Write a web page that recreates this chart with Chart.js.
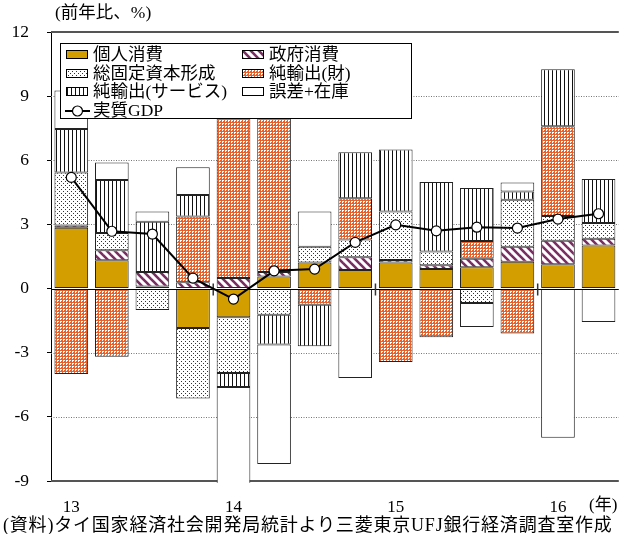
<!DOCTYPE html>
<html lang="ja">
<head>
<meta charset="utf-8">
<title>タイ 実質GDP成長率の需要項目別寄与度</title>
<script src="https://cdn.jsdelivr.net/npm/chart.js@4.4.1/dist/chart.umd.min.js"></script>
<style>
  html, body { margin: 0; padding: 0; background: #fff; }
  body { width: 625px; height: 534px; overflow: hidden; position: relative;
         font-family: 'Liberation Serif', 'Noto Sans CJK JP', serif; color: #000; }
  #wrap { position: absolute; left: 0; top: 0; width: 625px; height: 534px; }
  .txt { position: absolute; white-space: nowrap; line-height: 1; }
  #unit { left: 55px; top: 4px; font-size: 17.5px; }
  #year { left: 589px; top: 496px; font-size: 17px; }
  #source { left: 3px; top: 516px; font-size: 18px; letter-spacing: 0.8px; }
  #legend { position: absolute; left: 60px; top: 43px; width: 352px; height: 76px;
            border: 1px solid #000; background: #fff; box-sizing: border-box; }
  .item { position: absolute; height: 19px; font-size: 17.5px; line-height: 19px; white-space: nowrap; }
  .sw { position: absolute; left: 0; top: 5px; width: 22px; height: 9px;
        border: 1px solid #000; box-sizing: border-box; }
  .item span.t { position: absolute; left: 27px; top: 0; }
</style>
</head>
<body>
<div id="wrap"><canvas id="chart"></canvas></div>
<div class="txt" id="unit">(前年比、%)</div>
<div class="txt" id="year">(年)</div>
<div class="txt" id="source">(資料)タイ国家経済社会開発局統計より三菱東京UFJ銀行経済調査室作成</div>
<div id="legend"></div>

<script>
// quarters 2013Q1 - 2016Q2, label only on Q1
const quarterLabels = ['13', '', '', '', '14', '', '', '', '15', '', '', '', '16', ''];

const privateCons = [2.85, 1.32, 0.10, -1.84, -1.34, 0.57, 1.22, 0.87, 1.22, 0.92, 1.00, 1.25, 1.14, 2.02];
const govCons = [0.10, 0.47, 0.68, 0.30, 0.50, 0.21, 0.00, 0.60, 0.12, 0.17, 0.40, 0.71, 1.10, 0.31];
const fixedInv = [2.48, 0.81, -1.00, -3.30, -2.61, -1.22, 0.74, 0.83, 2.26, 0.64, -0.68, 2.19, 1.15, 0.74];
const netGoods = [-4.00, -3.19, 0.00, 3.07, 9.00, 8.25, -0.76, 1.92, -3.44, -2.28, 0.82, -2.10, 4.20, 0.00];
const netServices = [2.03, 2.48, 2.34, 1.01, -0.65, -1.40, -1.94, 2.15, 2.90, 3.26, 2.48, 0.39, 2.67, 2.05];
const residual = [1.80, 0.82, 0.49, 1.29, -5.20, -5.58, 1.64, -4.18, 0.00, 0.00, -1.12, 0.42, -6.98, -1.56];
const realGDP = [5.20, 2.68, 2.55, 0.49, -0.49, 0.83, 0.91, 2.16, 2.98, 2.70, 2.87, 2.83, 3.25, 3.50];

// y axis
const yMin = -9;
const yMax = 12;
const yStep = 3;

const FONT = "'Liberation Serif', 'Noto Sans CJK JP', serif";

// small pattern tiles for fills
function makeTile(w, h, draw) {
  const c = document.createElement('canvas');
  c.width = w;
  c.height = h;
  draw(c.getContext('2d'), w, h);
  return c;
}

const tiles = {
  gold: makeTile(4, 4, (g, w, h) => {
    g.fillStyle = '#D29E00';
    g.fillRect(0, 0, w, h);
  }),
  hatch: makeTile(8, 8, (g, w, h) => {
    g.fillStyle = '#fff';
    g.fillRect(0, 0, w, h);
    g.strokeStyle = '#7B2D62';
    g.lineWidth = 2.6;
    for (let o = -8; o <= 8; o += 8) {
      g.beginPath();
      g.moveTo(o - 1, -1);
      g.lineTo(o + 9, 9);
      g.stroke();
    }
  }),
  dots: makeTile(4, 4, (g, w, h) => {
    g.fillStyle = '#fff';
    g.fillRect(0, 0, w, h);
    g.fillStyle = '#333';
    g.fillRect(1, 1, 1, 1);
    g.fillRect(3, 3, 1, 1);
  }),
  checker: makeTile(3, 3, (g, w, h) => {
    g.fillStyle = '#E8602A';
    g.fillRect(0, 0, w, h);
    g.fillStyle = '#fff';
    g.fillRect(0, 0, 2, 1);
    g.fillRect(0, 1, 1, 1);
  }),
  vstripe: makeTile(4, 4, (g, w, h) => {
    g.fillStyle = '#fff';
    g.fillRect(0, 0, w, h);
    g.fillStyle = '#111';
    g.fillRect(0, 0, 1, h);
  }),
  blank: makeTile(4, 4, (g, w, h) => {
    g.fillStyle = '#fff';
    g.fillRect(0, 0, w, h);
  })
};

const ctx = document.getElementById('chart').getContext('2d');
function pat(name) {
  return ctx.createPattern(tiles[name], 'repeat');
}

// bar series definitions (stack order = array order)
const barSeries = [
  { label: '個人消費', data: privateCons, tile: 'gold' },
  { label: '政府消費', data: govCons, tile: 'hatch' },
  { label: '総固定資本形成', data: fixedInv, tile: 'dots' },
  { label: '純輸出(財)', data: netGoods, tile: 'checker' },
  { label: '純輸出(サービス)', data: netServices, tile: 'vstripe' },
  { label: '誤差+在庫', data: residual, tile: 'blank' }
];

const datasets = barSeries.map(s => ({
  type: 'bar',
  label: s.label,
  data: s.data,
  backgroundColor: pat(s.tile),
  borderColor: '#222',
  borderWidth: 1,
  borderSkipped: false,
  stack: 'contrib',
  barPercentage: 0.83,
  categoryPercentage: 1.0,
  clip: { left: 0, right: 0, top: 0, bottom: 2 },
  order: 1
}));

datasets.push({
  type: 'line',
  label: '実質GDP',
  data: realGDP,
  stack: 'gdp',
  borderColor: '#000',
  borderWidth: 2,
  pointRadius: 5,
  pointBackgroundColor: '#fff',
  pointBorderColor: '#000',
  pointBorderWidth: 1.2,
  tension: 0,
  order: 0
});

// dotted grid + frame below the bars, zero line + year marks below the GDP line
const framePlugin = {
  id: 'frame',
  beforeDatasetsDraw(chart) {
    const { ctx, chartArea, scales } = chart;
    const y = scales.y;
    ctx.save();
    ctx.strokeStyle = '#777';
    ctx.lineWidth = 1;
    ctx.setLineDash([1, 1.5]);
    for (let v = yMin + yStep; v < yMax; v += yStep) {
      if (v === 0) continue;
      const py = Math.round(y.getPixelForValue(v)) + 0.5;
      ctx.beginPath();
      ctx.moveTo(chartArea.left, py);
      ctx.lineTo(chartArea.right, py);
      ctx.stroke();
    }
    ctx.setLineDash([]);
    ctx.strokeStyle = '#555';
    ctx.lineWidth = 2;
    [yMax, yMin].forEach(v => {
      const py = y.getPixelForValue(v);
      ctx.beginPath();
      ctx.moveTo(chartArea.left, py);
      ctx.lineTo(chartArea.right, py);
      ctx.stroke();
    });
    ctx.restore();
  },
  beforeDatasetDraw(chart, args) {
    if (args.meta.type !== 'line') return;
    const { ctx, chartArea, scales } = chart;
    const py = Math.round(scales.y.getPixelForValue(0)) + 0.5;
    ctx.save();
    ctx.strokeStyle = '#000';
    ctx.lineWidth = 1;
    ctx.beginPath();
    ctx.moveTo(chartArea.left, py);
    ctx.lineTo(chartArea.right, py);
    ctx.stroke();
    // year boundary marks
    ctx.strokeStyle = '#333';
    ctx.lineWidth = 1.5;
    [4, 8, 12].forEach(i => {
      const px = (scales.x.getPixelForValue(i - 1) + scales.x.getPixelForValue(i)) / 2;
      ctx.beginPath();
      ctx.moveTo(px, py - 6);
      ctx.lineTo(px, py + 6);
      ctx.stroke();
    });
    ctx.restore();
  }
};

new Chart(ctx, {
  data: { labels: quarterLabels, datasets: datasets },
  options: {
    responsive: true,
    maintainAspectRatio: false,
    animation: false,
    layout: { padding: { top: 32, right: 0, bottom: 0, left: 0 } },
    plugins: {
      legend: { display: false },
      tooltip: { enabled: false }
    },
    scales: {
      x: {
        stacked: true,
        grid: { display: false, drawTicks: false },
        border: { display: false },
        ticks: {
          autoSkip: false,
          maxRotation: 0,
          padding: 16,
          color: '#000',
          font: { family: FONT, size: 17 }
        },
        afterFit(scale) { scale.height = 53; }
      },
      y: {
        stacked: true,
        min: yMin,
        max: yMax,
        grid: { drawOnChartArea: false, drawTicks: true, tickLength: 4, color: '#000' },
        border: { display: true, color: '#000', width: 1 },
        ticks: {
          stepSize: yStep,
          padding: 18,
          color: '#000',
          font: { family: FONT, size: 17.5 }
        },
        afterFit(scale) { scale.width = 51; }
      }
    }
  },
  plugins: [framePlugin]
});

// legend drawn as html over the chart
const legendItems = [
  { label: '個人消費', tile: 'gold', x: 5, row: 0 },
  { label: '政府消費', tile: 'hatch', x: 181, row: 0 },
  { label: '総固定資本形成', tile: 'dots', x: 5, row: 1 },
  { label: '純輸出(財)', tile: 'checker', x: 181, row: 1 },
  { label: '純輸出(サービス)', tile: 'vstripe', x: 5, row: 2 },
  { label: '誤差+在庫', tile: 'blank', x: 181, row: 2 },
  { label: '実質GDP', tile: null, x: 5, row: 3 }
];

const legend = document.getElementById('legend');
legendItems.forEach(it => {
  const div = document.createElement('div');
  div.className = 'item';
  div.style.left = it.x + 'px';
  div.style.top = (1 + it.row * 18.5) + 'px';
  if (it.tile) {
    const sw = document.createElement('div');
    sw.className = 'sw';
    sw.style.backgroundImage = 'url(' + tiles[it.tile].toDataURL() + ')';
    div.appendChild(sw);
  } else {
    // line marker with circle
    const c = document.createElement('canvas');
    c.width = 26;
    c.height = 19;
    c.style.position = 'absolute';
    c.style.left = '-1px';
    c.style.top = '0px';
    const g = c.getContext('2d');
    g.strokeStyle = '#000';
    g.lineWidth = 2;
    g.beginPath();
    g.moveTo(0, 10);
    g.lineTo(25, 10);
    g.stroke();
    g.fillStyle = '#fff';
    g.lineWidth = 1.2;
    g.beginPath();
    g.arc(12.5, 10, 5, 0, Math.PI * 2);
    g.fill();
    g.stroke();
    div.appendChild(c);
  }
  const t = document.createElement('span');
  t.className = 't';
  t.textContent = it.label;
  div.appendChild(t);
  legend.appendChild(div);
});
</script>
</body>
</html>
